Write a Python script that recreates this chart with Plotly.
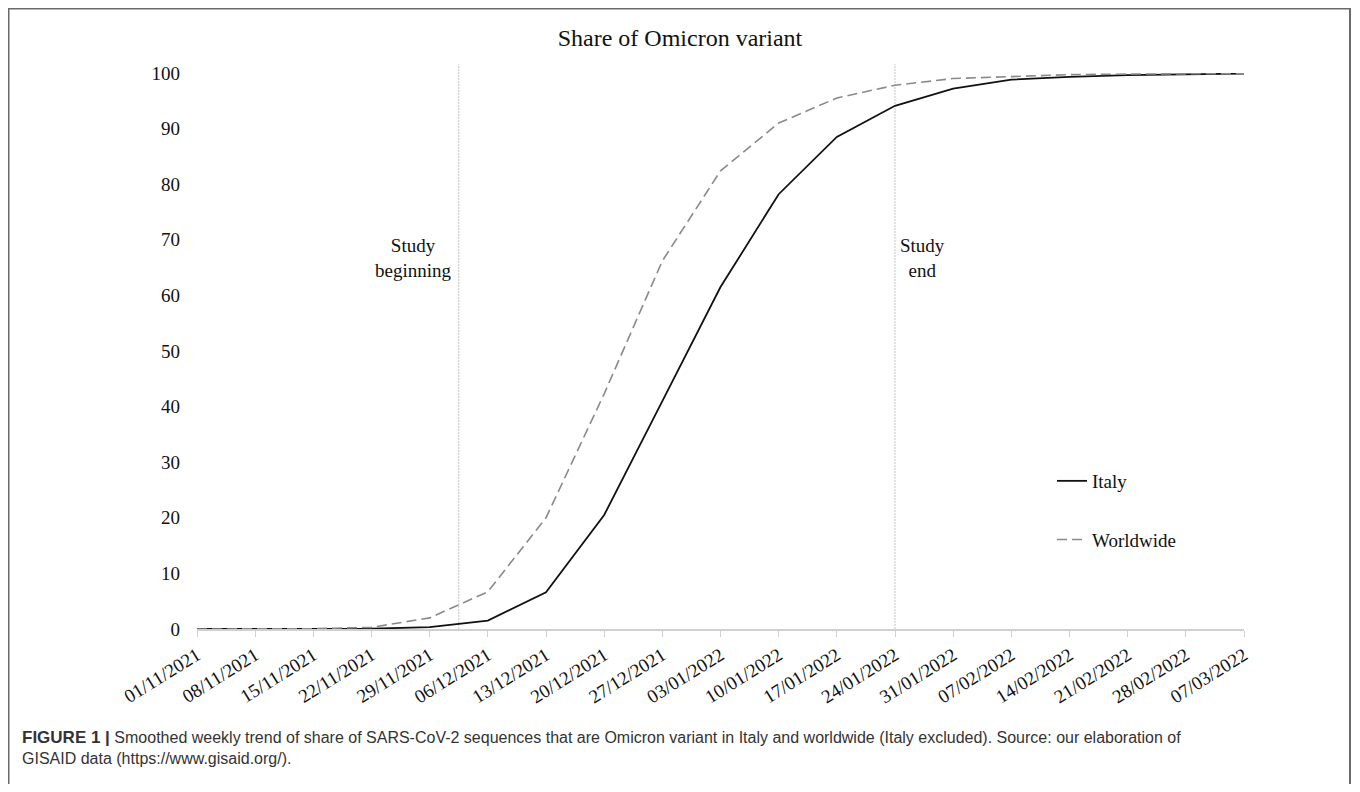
import plotly.graph_objects as go

weeks = ["01/11/2021", "08/11/2021", "15/11/2021", "22/11/2021", "29/11/2021",
         "06/12/2021", "13/12/2021", "20/12/2021", "27/12/2021", "03/01/2022",
         "10/01/2022", "17/01/2022", "24/01/2022", "31/01/2022", "07/02/2022",
         "14/02/2022", "21/02/2022", "28/02/2022", "07/03/2022"]
italy = [0, 0, 0, 0.05, 0.35, 1.5, 6.6, 20.5, 41, 61.5, 78.2, 88.5, 94.1,
         97.2, 98.8, 99.3, 99.6, 99.8, 99.9]
worldwide = [0, 0, 0.05, 0.3, 2.0, 6.7, 20, 42.3, 66.2, 82.4, 91.0, 95.5, 97.8,
             99.0, 99.4, 99.7, 99.8, 99.9, 99.9]
y_ticks = [0, 10, 20, 30, 40, 50, 60, 70, 80, 90, 100]
study_begin = 4.5   # between 29/11 and 06/12
study_end = 12      # 24/01/2022

SERIF = "Liberation Serif, Times New Roman, serif"

# figure geometry (page body adds an 8px offset)
FW, FH = 1344, 776
L, R, T, B = 189, 1236, 65, 621
W, H = R - L, B - T
def px(x):
    return (x - L) / W
def py(y):
    return (B - y) / H

fig = go.Figure()
fig.add_trace(go.Scatter(x=weeks, y=italy, mode="lines", name="Italy",
                         line=dict(color="#111111", width=1.8),
                         legendgroup="a"))
fig.add_trace(go.Scatter(x=weeks, y=worldwide, mode="lines", name="Worldwide",
                         line=dict(color="#8a8a8a", width=1.6, dash="10px,5px"),
                         legendgroup="b"))

# study markers
for xv in (study_begin, study_end):
    fig.add_shape(type="line", xref="x", yref="paper", x0=xv, x1=xv, y0=0, y1=1.016,
                  line=dict(color="#c4c4c4", width=1, dash="2px,1px"), layer="below")

fig.add_annotation(x=3.72, y=66.8, xref="x", yref="y", text="Study<br>beginning",
                   showarrow=False, font=dict(family=SERIF, size=19, color="#111"),
                   align="center")
fig.add_annotation(x=12.47, y=66.8, xref="x", yref="y", text="Study<br>end",
                   showarrow=False, font=dict(family=SERIF, size=19, color="#111"),
                   align="center")

# outer frame
fig.add_shape(type="rect", xref="paper", yref="paper",
              x0=px(0.5), x1=px(1342), y0=py(820), y1=py(0.5),
              line=dict(color="#6a6a6a", width=2), fillcolor="rgba(0,0,0,0)")

# caption
fig.add_annotation(xref="paper", yref="paper", x=px(12), y=py(718), xanchor="left", yanchor="top",
                   showarrow=False, align="left",
                   text="<b><span style='font-size:17px'>FIGURE 1 |</span></b> Smoothed weekly trend of share of SARS-CoV-2 sequences that are Omicron variant in Italy and worldwide (Italy excluded). Source: our elaboration of<br>GISAID data (https://www.gisaid.org/).",
                   font=dict(family="Liberation Sans, Arial, sans-serif", size=16, color="#333333"))

fig.update_layout(
    width=FW, height=FH,
    margin=dict(l=L, r=FW - R, t=T, b=FH - B),
    paper_bgcolor="white", plot_bgcolor="white",
    title=dict(text="Share of Omicron variant", x=672 / FW, xanchor="center", y=1 - 30 / FH,
               yanchor="middle", font=dict(family=SERIF, size=24, color="#111")),
    showlegend=True,
    legend=dict(x=px(1044), y=py(454), xanchor="left", yanchor="top",
                font=dict(family=SERIF, size=19, color="#111"),
                tracegroupgap=31, bgcolor="rgba(0,0,0,0)"),
    xaxis=dict(type="category", range=[0, len(weeks) - 1], showgrid=False,
               showline=True, linecolor="#d0d0d0", linewidth=1.5,
               ticks="outside", ticklen=6, tickcolor="#d0d0d0",
               tickangle=-32, tickfont=dict(family=SERIF, size=19, color="#111")),
    yaxis=dict(range=[0, 100], tickvals=y_ticks, showgrid=False, zeroline=False,
               showline=False, ticks="", ticklabelstandoff=16,
               tickfont=dict(family=SERIF, size=19, color="#111")),
)

fig.write_html("out.html")
